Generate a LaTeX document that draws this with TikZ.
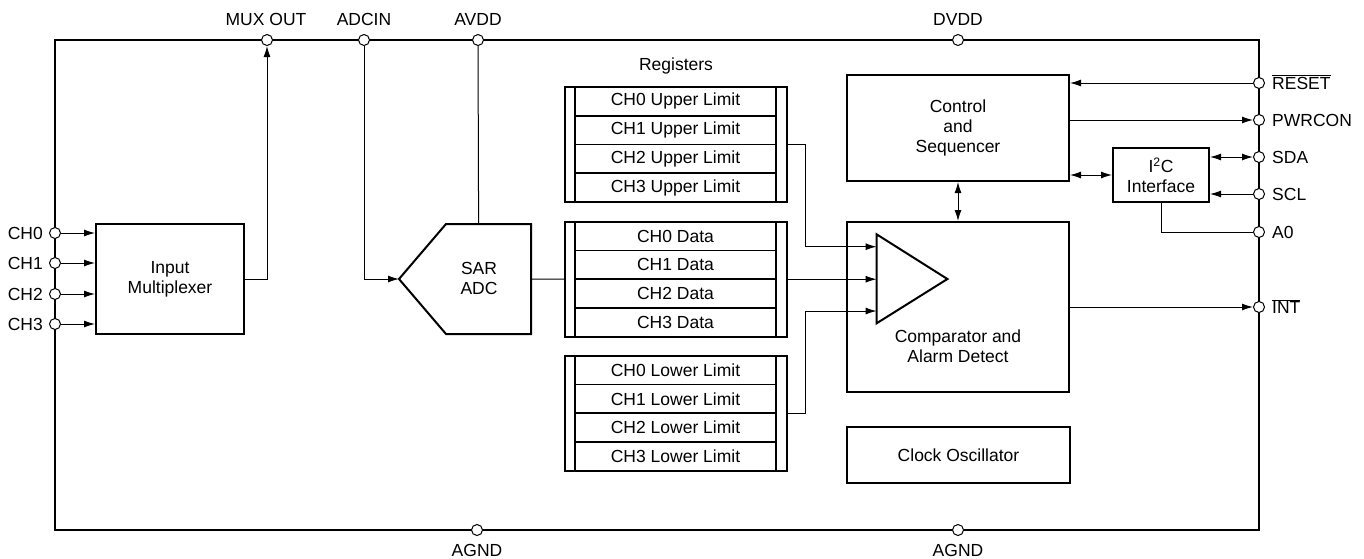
\documentclass[tikz,border=0pt]{standalone}
\usepackage{fontspec}
\setmainfont{Liberation Sans}
\usetikzlibrary{arrows.meta}
\begin{document}
\begin{tikzpicture}[x=1pt,y=-1pt,
  every node/.style={font=\fontsize{17.5}{20}\selectfont},
  pin/.style={circle,draw,fill=white,inner sep=0pt,minimum size=11pt,line width=1pt},
  blk/.style={draw,line width=2pt,align=center,inner sep=0pt},
  row/.style={draw,line width=1.5pt,minimum width=201pt,minimum height=28.75pt,inner sep=0pt},
  conn/.style={line width=1pt},
  arr/.style={conn,-{Latex[length=11pt,width=7pt]}},
  dbl/.style={conn,{Latex[length=11pt,width=7pt]}-{Latex[length=11pt,width=7pt]}},
  lbl/.style={inner sep=0pt}]
\useasboundingbox (0,0) rectangle (1364,558);
% outer border
\draw[line width=2.5pt] (55,40) rectangle (1259,530);
% pins
\node[pin] (pMUX) at (267,40) {};
\node[pin] (pADC) at (364,40) {};
\node[pin] (pAVDD) at (478,40) {};
\node[pin] (pDVDD) at (958,40) {};
\node[pin] (pAG1) at (477,530) {};
\node[pin] (pAG2) at (958,530) {};
\node[pin] (pCH0) at (55,233) {};
\node[pin] (pCH1) at (55,263) {};
\node[pin] (pCH2) at (55,294) {};
\node[pin] (pCH3) at (55,324) {};
\node[pin] (pRESET) at (1259,83) {};
\node[pin] (pPWR) at (1259,120) {};
\node[pin] (pSDA) at (1259,157) {};
\node[pin] (pSCL) at (1259,194) {};
\node[pin] (pA0) at (1259,232) {};
\node[pin] (pINT) at (1259,307) {};
% pin labels
\node[lbl] (tMUX) at (266,19) {MUX OUT};
\node[lbl] (tADC) at (364,19) {ADCIN};
\node[lbl] (tAVDD) at (478,19) {AVDD};
\node[lbl] (tDVDD) at (958,19) {DVDD};
\node[lbl] (tAG1) at (477,550) {AGND};
\node[lbl] (tAG2) at (958,550) {AGND};
\node[lbl,anchor=base east] (tCH0) at (43,239.3) {CH0};
\node[lbl,anchor=base east] (tCH1) at (43,269.3) {CH1};
\node[lbl,anchor=base east] (tCH2) at (43,300.3) {CH2};
\node[lbl,anchor=base east] (tCH3) at (43,330.3) {CH3};
\node[lbl,anchor=base west] (tRESET) at (1272,89.3) {$\overline{\mbox{RESET}}$};
\node[lbl,anchor=base west] (tPWR) at (1272,126.3) {PWRCON};
\node[lbl,anchor=base west] (tSDA) at (1272,163.3) {SDA};
\node[lbl,anchor=base west] (tSCL) at (1272,200.3) {SCL};
\node[lbl,anchor=base west] (tA0) at (1272,238.3) {A0};
\node[lbl,anchor=base west] (tINT) at (1272,313.3) {$\overline{\mbox{INT}}$};
% input multiplexer
\node[blk,minimum width=148pt,minimum height=110pt] (mux) at (170,279) {Input\\Multiplexer};
\foreach \p in {pCH0,pCH1,pCH2,pCH3}{\draw[arr] (\p) -- (\p -| mux.west);}
\draw[arr] (mux.east) -| (pMUX);
% SAR ADC
\coordinate (sarTip) at (399,279);
\coordinate (sarTop) at (478.6,224);
\coordinate (sarR) at (531,279);
\draw[line width=2pt,line join=miter] (sarTip) -- (446,224) -- (531,224) -- (531,334) -- (446,334) -- cycle;
\node[lbl,align=center] (sarTxt) at (479,278) {SAR\\ADC};
\draw[arr] (pADC) |- (sarTip);
\draw[conn] (pAVDD) -- (sarTop);
% registers
\node[lbl] (regTxt) at (676,66) {Registers};
\foreach \i/\y in {0/101.4,1/130.1,2/158.9,3/187.6}{\node[row] (u\i) at (675.5,\y) {CH\i{} Upper Limit};}
\foreach \i/\y in {0/236.1,1/264.8,2/293.6,3/322.3}{\node[row] (d\i) at (675.5,\y) {CH\i{} Data};}
\foreach \i/\y in {0/370.1,1/398.8,2/427.6,3/456.3}{\node[row] (l\i) at (675.5,\y) {CH\i{} Lower Limit};}
\node[blk,minimum width=222pt,minimum height=115pt] (ublk) at (676,144.5) {};
\node[blk,minimum width=222pt,minimum height=115pt] (dblk) at (676,279.2) {};
\node[blk,minimum width=222pt,minimum height=115pt] (lblk) at (676,413.2) {};
\draw[conn] (sarR) -- (dblk.west);
% comparator
\node[blk,minimum width=222pt,minimum height=170pt] (cmp) at (958,307) {};
\node[lbl,align=center] (cmpTxt) at (958,346) {Comparator and\\Alarm Detect};
\draw[line width=2pt,line join=miter] (876.6,234.3) -- (947.4,279) -- (876.6,323.3) -- cycle;
\coordinate (tri1) at (876.6,246.7);
\coordinate (tri2) at (876.6,279.2);
\coordinate (tri3) at (876.6,311);
\draw[arr] (ublk.east) -- ++(17,0) |- (tri1);
\draw[arr] (dblk.east) -- (tri2);
\draw[arr] (lblk.east) -- ++(17,0) |- (tri3);
% clock
\node[blk,minimum width=223pt,minimum height=56pt] (clk) at (958.5,455) {Clock Oscillator};
% control
\node[blk,minimum width=222pt,minimum height=106pt] (ctl) at (958,128) {Control\\and\\Sequencer};
% I2C
\node[blk,minimum width=96pt,minimum height=54pt] (i2c) at (1161,175) {I\textsuperscript{2}C\\Interface};
% connectors
\draw[dbl] (ctl.south) -- (cmp.north);
\draw[dbl] (i2c.west -| ctl.east) -- (i2c.west);
\draw[arr] (pRESET) -- (pRESET -| ctl.east);
\draw[arr] (pPWR -| ctl.east) -- (pPWR);
\draw[dbl] (pSDA -| i2c.east) -- (pSDA);
\draw[arr] (pSCL) -- (pSCL -| i2c.east);
\draw[conn] (i2c.south) |- (pA0);
\draw[arr] (pINT -| cmp.east) -- (pINT);
\end{tikzpicture}
\end{document}
